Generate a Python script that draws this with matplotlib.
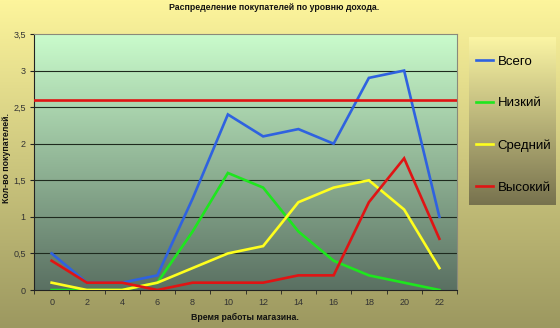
import matplotlib.pyplot as plt
import numpy as np
from matplotlib.colors import LinearSegmentedColormap

plt.rcParams['font.family'] = ['Liberation Sans', 'DejaVu Sans']

# data
hours = [0, 2, 4, 6, 8, 10, 12, 14, 16, 18, 20, 22]
total = [0.5, 0.1, 0.1, 0.2, 1.25, 2.4, 2.1, 2.2, 2.0, 2.9, 3.0, 1.0]
low = [0.0, 0.0, 0.0, 0.1, 0.8, 1.6, 1.4, 0.8, 0.4, 0.2, 0.1, 0.0]
mid = [0.1, 0.0, 0.0, 0.1, 0.3, 0.5, 0.6, 1.2, 1.4, 1.5, 1.1, 0.3]
high = [0.4, 0.1, 0.1, 0.0, 0.1, 0.1, 0.1, 0.2, 0.2, 1.2, 1.8, 0.7]
level = 2.6
names = ['Всего', 'Низкий', 'Средний', 'Высокий']
colors = ['#2f62e0', '#1ee61e', '#ffff1e', '#e01414']
yticks = [0, 0.5, 1, 1.5, 2, 2.5, 3, 3.5]


def grad(ax, top, bottom):
    cm = LinearSegmentedColormap.from_list('g', [bottom, top])
    img = np.linspace(0, 1, 256).reshape(-1, 1)
    ax.imshow(img, cmap=cm, aspect='auto', origin='lower',
              extent=[0, 1, 0, 1], transform=ax.transAxes, zorder=0)


fig = plt.figure(figsize=(5.6, 3.28), dpi=100)

bg = fig.add_axes([0, 0, 1, 1], zorder=-2)
grad(bg, '#fdf59c', '#9c9860')
bg.axis('off')

lg = fig.add_axes([469/560, 1-205/328, 87/560, 168/328], zorder=-1)
grad(lg, '#fbf5a4', '#77724e')
lg.axis('off')

ax = fig.add_axes([34/560, 38/328, 423/560, 256/328])
grad(ax, '#cafccc', '#5a7062')

for yv in yticks[1:-1]:
    ax.axhline(yv, color='#1e2a1e', lw=0.8, zorder=1)

series = [total, low, mid, high]
handles = []
for vals, name, c in zip(series, names, colors):
    h, = ax.plot(hours, vals, color=c, lw=1.9, label=name, zorder=3,
                 solid_joinstyle='miter')
    handles.append(h)
ax.axhline(level, color='#e01414', lw=1.9, zorder=3)

ax.set_xlim(-1, 23)
ax.set_ylim(0, 3.5)
ax.set_xticks(hours)
ax.set_xticklabels([str(h) for h in hours])
ax.set_xticks(np.arange(-1, 24, 2), minor=True)
ax.tick_params(axis='x', which='major', length=0, pad=6)
ax.tick_params(axis='x', which='minor', length=3, color='#222222')
ax.set_yticks(yticks)
ax.set_yticklabels([('%g' % v).replace('.', ',') for v in yticks])
ax.tick_params(axis='y', length=3, color='#222222', pad=3)
ax.tick_params(labelsize=6.5, labelcolor='#333333')
for s in ['top', 'right']:
    ax.spines[s].set_color('#8a8a7a')
    ax.spines[s].set_linewidth(0.8)
for s in ['left', 'bottom']:
    ax.spines[s].set_color('#222222')
    ax.spines[s].set_linewidth(0.8)

fig.legend(handles, names, loc='upper left', bbox_to_anchor=(471/560, 1-50/328),
           frameon=False, fontsize=9.5, handlelength=1.3, handletextpad=0.3,
           labelspacing=2.25, borderaxespad=0)

fig.text(0.49, 1-8/328, 'Распределение покупателей по уровню дохода.',
         ha='center', va='center', fontsize=6.3, fontweight='bold', color='#111111')
fig.text(0.4375, 1-317/328, 'Время работы магазина.', ha='center', va='center',
         fontsize=6.3, fontweight='bold', color='#111111')
fig.text(0.0125, 1-158/328, 'Кол-во покупателей.', ha='center', va='center',
         rotation=90, fontsize=6.3, fontweight='bold', color='#111111')

fig.savefig('out.png', dpi=100)
